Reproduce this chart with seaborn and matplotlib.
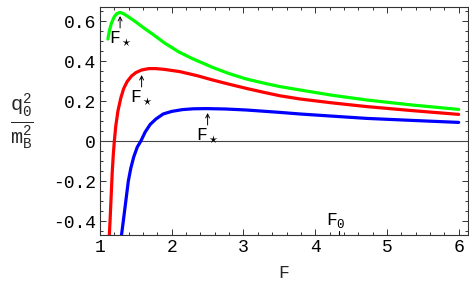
import numpy as np
import pandas as pd
import matplotlib
matplotlib.use("Agg")
import matplotlib.pyplot as plt
import seaborn as sns
from matplotlib.ticker import MultipleLocator, FuncFormatter

# ---- data ----
green_F = [1.11, 1.13, 1.16, 1.20, 1.24, 1.28, 1.33, 1.40, 1.50, 1.60, 1.75, 1.90, 2.10, 2.30, 2.57, 2.80,
           3.04, 3.30, 3.51, 3.79, 4.25, 4.72, 5.35, 6.0]
green_q = [0.51, 0.55, 0.59, 0.622, 0.638, 0.643, 0.636, 0.62, 0.595, 0.568, 0.53, 0.49, 0.445, 0.41, 0.368, 0.337,
           0.31, 0.288, 0.272, 0.255, 0.228, 0.205, 0.18, 0.158]

red_F = [1.13, 1.14, 1.155, 1.17, 1.185, 1.20, 1.22, 1.25, 1.29, 1.33, 1.38, 1.44, 1.50, 1.58, 1.68, 1.78,
         1.90, 2.11, 2.35, 2.57, 2.80, 3.04, 3.30, 3.51, 3.79, 4.25, 4.72, 5.35, 6.0]
red_q = [-0.47, -0.40, -0.28, -0.16, -0.07, 0.0, 0.075, 0.15, 0.215, 0.262, 0.298, 0.325, 0.342, 0.355, 0.362, 0.362,
         0.358, 0.347, 0.327, 0.305, 0.284, 0.263, 0.242, 0.226, 0.21, 0.19, 0.172, 0.152, 0.133]

blue_F = [1.30, 1.325, 1.36, 1.395, 1.43, 1.47, 1.52, 1.57, 1.63, 1.70, 1.78, 1.88, 2.0, 2.15, 2.30, 2.48,
          2.75, 3.04, 3.51, 3.79, 4.25, 4.72, 5.35, 6.0]
blue_q = [-0.47, -0.40, -0.30, -0.20, -0.135, -0.08, -0.03, 0.0, 0.045, 0.083, 0.11, 0.135, 0.148, 0.157, 0.161, 0.162,
          0.16, 0.155, 0.143, 0.135, 0.124, 0.113, 0.103, 0.093]

# F_* markers (arrow x, arrow tip y, arrow tail y)
star_x = [1.28, 1.58, 2.50]
star_tip = [0.625, 0.33, 0.14]
star_tail = [0.565, 0.27, 0.08]
F0_x = 4.33

x_ticks = [1, 2, 3, 4, 5, 6]
y_ticks = [-0.4, -0.2, 0, 0.2, 0.4, 0.6]

sns.set_style("ticks")
plt.rcParams['font.family'] = ['Liberation Mono', 'DejaVu Sans Mono']
plt.rcParams['mathtext.fontset'] = 'custom'
plt.rcParams['mathtext.rm'] = 'Liberation Mono'
plt.rcParams['mathtext.it'] = 'Liberation Mono'

fig = plt.figure(figsize=(4.69, 2.90), dpi=100)
ax = fig.add_axes([100/469, (290-235)/290, (468-100)/469, (235-7)/290])

ax.axhline(0, color='#444444', lw=0.8, zorder=1)

for F, q, c in [(green_F, green_q, '#00ff00'), (red_F, red_q, '#ff0000'), (blue_F, blue_q, '#0000ff')]:
    df = pd.DataFrame({'F': F, 'q': q})
    sns.lineplot(data=df, x='F', y='q', color=c, lw=2.3, sort=False, ax=ax, zorder=3)

ax.set_xlim(1, 6.13)
ax.set_ylim(-0.47, 0.67)

for x, t, b in zip(star_x, star_tip, star_tail):
    ax.annotate('', xy=(x, t), xytext=(x, b),
                arrowprops=dict(arrowstyle='->', lw=0.7, color='black', shrinkA=0, shrinkB=0,
                                mutation_scale=7), zorder=5)
    ax.text(x, b - 0.005, r'F$_\star$', ha='center', va='top', fontsize=13, color='black', zorder=5)

ax.plot([F0_x, F0_x], [-0.47, -0.45], color='black', lw=0.8, clip_on=False)
ax.text(F0_x - 0.04, -0.445, r'F$_0$', ha='center', va='bottom', fontsize=13, color='black')

ax.xaxis.set_minor_locator(MultipleLocator(0.2))
ax.yaxis.set_minor_locator(MultipleLocator(0.05))
ax.set_xticks(x_ticks)
ax.set_yticks(y_ticks)

def yfmt(v, pos):
    if abs(v) < 1e-9:
        return '0'
    return '%.1f' % v
ax.yaxis.set_major_formatter(FuncFormatter(yfmt))

ax.tick_params(which='both', direction='in', top=True, right=True, colors='#333333',
               labelcolor='black', labelsize=13, width=0.7)
ax.tick_params(which='major', length=4, pad=3)
ax.tick_params(which='minor', length=2)

for s in ax.spines.values():
    s.set_visible(True)
    s.set_color('#333333')
    s.set_linewidth(0.8)

ax.set_xlabel('F', fontsize=13, labelpad=6)
ax.set_ylabel('')
fig.text(22/469, 1 - 121/290, r'$\frac{\mathrm{q}_0^2}{\mathrm{m}_\mathrm{B}^2}$', ha='center', va='center', fontsize=21)

fig.savefig('out.png', dpi=100)
